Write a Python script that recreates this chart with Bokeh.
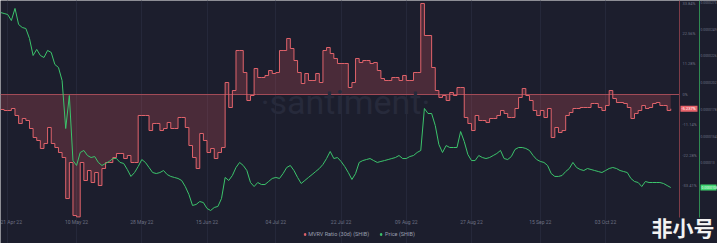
import pandas as pd
from bokeh.plotting import figure
from bokeh.models import (Range1d, LinearAxis, FixedTicker, Label, Legend,
                          LegendItem, ColumnDataSource, BoxAnnotation)
from bokeh.embed import file_html
from bokeh.resources import INLINE

# ---------------- data ----------------
start_date = "2022-04-19"

mvrv_30d = [
    -5.51, -5.88, -5.88, -5.15, -7.72, -10.66, -8.82, -9.56, -12.5, -15.81,
    -16.91, -19.85, -18.01, -12.13, -18.01, -19.49, -21.32, -23.16, -38.24, -25.0,
    -44.49, -45.0, -25.0, -31.62, -27.94, -32.35, -28.68, -33.46, -27.21, -25.0,
    -25.0, -23.16, -21.69, -21.69, -23.53, -22.43, -25.0, -25.0, -7.72, -7.72,
    -7.72, -13.24, -10.66, -10.66, -13.24, -12.5, -10.29, -12.5, -12.5, -8.46,
    -8.46, -12.13, -18.75, -23.16, -27.21, -14.34, -16.91, -21.32, -19.85, -23.53,
    -21.32, -19.49, 4.41, -4.78, 1.47, 16.18, 16.18, 8.09, -2.21, -0.37,
    9.56, 6.25, 6.25, 6.99, 8.82, 7.72, 8.09, 16.18, 16.18, 20.59,
    16.91, 12.5, 8.09, 4.04, 7.72, 5.15, 5.15, 7.72, 4.41, 16.18,
    17.28, 15.07, 13.24, 11.40, 11.40, 11.40, 2.57, 4.41, 13.24, 11.76,
    12.5, 12.5, 11.40, 11.76, 8.82, 5.88, 5.15, 5.15, 6.25, 6.25,
    5.15, 6.99, 5.15, 5.15, 8.09, 8.09, 33.46, 21.69, 21.69, 9.93,
    1.47, -1.10, -0.37, -2.21, 0.74, -0.37, 2.57, 2.57, -8.46, -10.66,
    -13.24, -7.72, -9.56, -9.56, -10.29, -8.82, -8.82, -7.72, -5.88, -6.99,
    -8.46, -8.46, -5.15, -1.10, 2.21, -0.37, -2.21, -5.88, -7.72, -5.88,
    -8.46, -5.15, -15.81, -12.13, -13.97, -13.24, -7.72, -6.62, -5.15, -5.15,
    -4.78, -4.78, -4.78, -3.31, -3.31, -4.78, -5.88, -4.04, 1.47, -1.47,
    -2.94, -2.94, -3.31, -4.78, -8.82, -6.99, -5.88, -4.04, -5.15, -4.78,
    -3.31, -2.94, -4.04, -4.04, -5.88, -5.237,
]

# SHIB price, in millionths of a dollar (1e-6 USD)
price_micro = [
    26.43, 26.34, 26.25, 25.71, 26.79, 25.36, 25.09, 25.00, 24.11, 22.59,
    23.13, 22.59, 22.41, 23.04, 22.86, 21.79, 21.52, 20.36, 16.07, 19.02,
    13.21, 12.77, 13.93, 14.11, 13.66, 13.48, 13.57, 13.04, 12.77, 12.95,
    13.13, 13.39, 13.39, 13.04, 12.95, 12.41, 11.79, 12.14, 12.68, 13.30,
    13.04, 12.59, 12.14, 12.05, 12.14, 12.32, 11.96, 11.79, 11.70, 11.61,
    11.43, 10.89, 10.18, 9.20, 9.29, 9.55, 9.46, 8.93, 8.75, 9.02,
    9.11, 9.82, 11.70, 11.43, 11.875, 12.59, 13.04, 12.77, 12.32, 11.25,
    10.89, 11.25, 11.07, 11.07, 11.34, 11.61, 11.70, 11.61, 12.05, 12.59,
    12.77, 12.32, 11.70, 11.16, 11.43, 11.70, 11.96, 12.23, 12.50, 12.86,
    13.39, 14.02, 13.39, 13.48, 13.13, 12.68, 12.14, 11.52, 12.05, 13.04,
    13.21, 13.30, 13.39, 13.21, 13.04, 13.13, 13.21, 13.30, 13.39, 13.48,
    13.66, 13.39, 13.39, 13.57, 13.66, 13.93, 14.11, 17.86, 17.41, 17.41,
    16.34, 14.64, 13.93, 14.55, 14.375, 14.375, 14.375, 15.80, 14.91, 13.75,
    13.21, 13.21, 13.66, 13.48, 13.39, 13.48, 13.66, 13.84, 14.11, 13.39,
    13.30, 13.57, 14.20, 14.375, 14.375, 14.29, 14.11, 13.66, 13.30, 13.13,
    13.04, 12.77, 12.05, 11.79, 11.79, 11.875, 12.23, 12.50, 13.04, 12.59,
    12.41, 12.32, 12.50, 12.41, 12.32, 12.23, 12.14, 12.32, 12.50, 12.59,
    12.50, 12.32, 12.23, 12.14, 11.61, 11.34, 11.25, 10.89, 11.34, 11.25,
    11.25, 11.25, 11.25, 11.16, 10.98, 10.80,
]

x_tick_dates = ["2022-04-21", "2022-05-10", "2022-05-28", "2022-06-15", "2022-07-04",
                "2022-07-22", "2022-08-09", "2022-08-27", "2022-09-15", "2022-10-03"]
x_tick_labels = ["21 Apr 22", "10 May 22", "28 May 22", "15 Jun 22", "04 Jul 22",
                 "22 Jul 22", "09 Aug 22", "27 Aug 22", "15 Sep 22", "03 Oct 22"]

mvrv_ticks = [33.84, 22.56, 11.28, 0.0, -11.14, -22.28, -33.41]
mvrv_tick_labels = ["33.84%", "22.56%", "11.28%", "0%", "-11.14%", "-22.28%", "-33.41%"]

price_ticks = [27.3, 24.9, 22.6, 20.2, 17.8, 15.4, 13.0]
price_tick_labels = ["0.0000273", "0.0000249", "0.0000226", "0.0000202",
                     "0.0000178", "0.0000154", "0.000013"]

last_mvrv_label = "-5.237%"
last_price_label = "0.0000108"

# ---------------- layout helpers (pixel -> data position) ----------------
W, H = 717, 243
PX_PER_DAY = 3.623
MVRV_TOP, MVRV_PX = 34.56, 2.72      # % at top edge, px per %
PRICE_TOP, PRICE_PX = 27.5, 11.2     # 1e-6 at top edge, px per 1e-6
PLOT_H = 217                          # height of data area

DAY = 86400000
x0_ms = pd.Timestamp(start_date).value // 10**6


def xpx(px):
    return x0_ms + px / PX_PER_DAY * DAY


def mpx(py):
    return MVRV_TOP - py / MVRV_PX


def ppx(py):
    return PRICE_TOP - py / PRICE_PX


BG = "#1c1e2d"
RED = "#e0636b"
GREEN = "#3cc46c"
AXIS_TXT = "#6c7083"
FONT = "Roboto"

dates = pd.date_range(start_date, periods=len(mvrv_30d), freq="D")
src = ColumnDataSource(dict(date=dates, mvrv=mvrv_30d, price=price_micro))

p = figure(frame_width=W, frame_height=H, x_axis_type="datetime",
           x_range=Range1d(xpx(0), xpx(W)), y_range=Range1d(mpx(H), mpx(0)),
           output_backend="svg", toolbar_location=None,
           y_axis_location="right",
           background_fill_color=BG, border_fill_color=BG,
           min_border_left=0, min_border_top=0, min_border_right=0, min_border_bottom=0)
p.outline_line_color = None
p.extra_y_ranges = {"price": Range1d(ppx(H), ppx(0))}

# grid (vertical only, limited to the data area)
xt = [pd.Timestamp(d).value // 10**6 for d in x_tick_dates]
p.xgrid.ticker = FixedTicker(ticks=xt)
p.xgrid.grid_line_color = "#25283a"
p.xgrid.bounds = (mpx(PLOT_H), mpx(0))
p.ygrid.grid_line_color = None

# x axis, pinned at the bottom of the data area
xa = p.xaxis[0]
xa.fixed_location = mpx(PLOT_H)
xa.ticker = FixedTicker(ticks=xt)
xa.major_label_overrides = {t: l for t, l in zip(xt, x_tick_labels)}
xa.axis_line_color = None
xa.major_tick_line_color = None
xa.minor_tick_line_color = None
xa.major_tick_out = 0
xa.major_tick_in = 0
xa.minor_tick_out = 0
xa.major_label_text_font_size = "5px"
xa.major_label_text_color = AXIS_TXT
xa.major_label_text_font = FONT
xa.major_label_standoff = 1

# MVRV axis (right, inner)
ya = p.yaxis[0]
ya.fixed_location = xpx(679)
ya.bounds = (mpx(PLOT_H), mpx(0))
ya.ticker = FixedTicker(ticks=mvrv_ticks)
ya.major_label_overrides = {t: l for t, l in zip(mvrv_ticks, mvrv_tick_labels)}
ya.axis_line_color = "#7e3c48"
ya.major_tick_line_color = None
ya.minor_tick_line_color = None
ya.major_tick_out = 0
ya.major_tick_in = 0
ya.minor_tick_out = 0
ya.major_label_text_font_size = "4px"
ya.major_label_text_color = AXIS_TXT
ya.major_label_text_font = FONT
ya.major_label_standoff = 3

# price axis (right, outer)
pa = LinearAxis(y_range_name="price", ticker=FixedTicker(ticks=price_ticks))
pa.fixed_location = xpx(699)
pa.bounds = (ppx(PLOT_H), ppx(0))
pa.major_label_overrides = {t: l for t, l in zip(price_ticks, price_tick_labels)}
pa.axis_line_color = "#2f8a52"
pa.major_tick_line_color = None
pa.minor_tick_line_color = None
pa.major_tick_out = 0
pa.major_tick_in = 0
pa.minor_tick_out = 0
pa.major_label_text_font_size = "3.4px"
pa.major_label_text_color = AXIS_TXT
pa.major_label_text_font = FONT
pa.major_label_standoff = 1
p.add_layout(pa, "right")

# watermark
p.add_layout(Label(x=xpx(345), y=mpx(101), text="·santiment·",
                   text_font_size="34px", text_font=FONT, text_color="#272a3b",
                   text_align="center", text_baseline="middle"))

# MVRV area + zero line + step line
p.varea_step(x="date", y1=0, y2="mvrv", source=src, step_mode="after",
             fill_color="#c8505c", fill_alpha=0.27)
p.segment(x0=[xpx(0)], y0=[0], x1=[xpx(679)], y1=[0], line_color="#a24b57", line_width=1)
p.step(x="date", y="mvrv", source=src, mode="after", line_color=RED, line_width=1)

# price line
p.line(x="date", y="price", source=src, y_range_name="price", line_color=GREEN, line_width=1)

# last-value badges
p.add_layout(BoxAnnotation(left=xpx(680), right=xpx(697),
                           top=mvrv_30d[-1] + 3 / MVRV_PX, bottom=mvrv_30d[-1] - 3 / MVRV_PX,
                           fill_color="#e8646b", fill_alpha=1, line_color=None))
p.add_layout(Label(x=xpx(681), y=mvrv_30d[-1], text=last_mvrv_label,
                   text_font_size="4px", text_font=FONT, text_color="white",
                   text_baseline="middle"))
p.add_layout(BoxAnnotation(left=xpx(700), right=xpx(716),
                           top=price_micro[-1] + 3 / PRICE_PX, bottom=price_micro[-1] - 3 / PRICE_PX,
                           y_range_name="price",
                           fill_color="#3ed36f", fill_alpha=1, line_color=None))
p.add_layout(Label(x=xpx(701), y=price_micro[-1], y_range_name="price",
                   text=last_price_label, text_font_size="3.4px", text_font=FONT,
                   text_color="#eafff0", text_baseline="middle"))

# site logo
p.add_layout(Label(x=xpx(651), y=mpx(226), text="非小号", text_font_size="21px",
                   text_font="Noto Sans CJK SC", text_font_style="bold",
                   text_color="#f2f2f2", text_baseline="middle"))

# legend (inside the canvas, below the axis labels)
far = xpx(-200)
sq_red = p.scatter([far], [0], marker="square", size=4, color=RED)
sq_green = p.scatter([far], [0], marker="square", size=4, color=GREEN)
legend = Legend(items=[LegendItem(label="MVRV Ratio (30d) (SHIB)", renderers=[sq_red]),
                       LegendItem(label="Price (SHIB)", renderers=[sq_green])],
                orientation="horizontal", location="bottom",
                background_fill_alpha=0, border_line_alpha=0,
                label_text_color="#9a9eb0", label_text_font_size="5.5px",
                label_text_font=FONT, glyph_width=4, glyph_height=4,
                label_height=6, label_width=10,
                label_standoff=2, spacing=10, padding=1, margin=5)
p.add_layout(legend)

open("out.html", "w").write(file_html(p, INLINE))
